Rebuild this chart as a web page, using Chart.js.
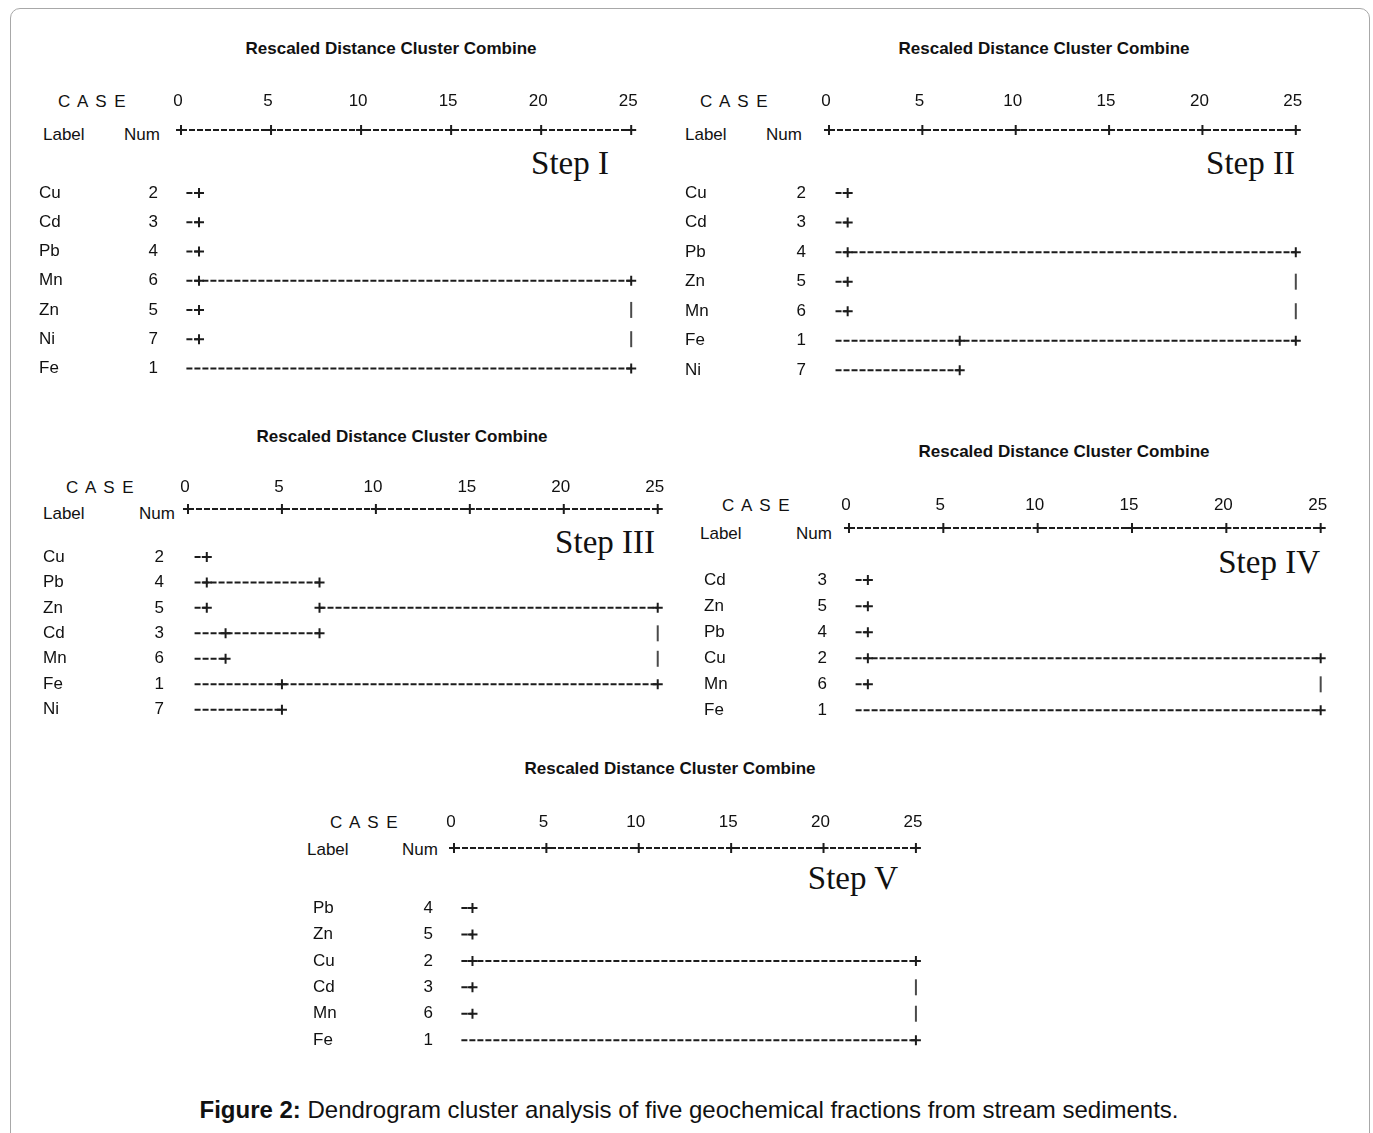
<!DOCTYPE html>
<html>
<head>
<meta charset="utf-8">
<script src="https://cdn.jsdelivr.net/npm/chart.js@4/dist/chart.umd.min.js"></script>
<style>
body { margin: 0; background: #fff; font-family: "Liberation Sans", Arial, sans-serif; color: #111; }
#page { position: relative; width: 1373px; height: 1133px; overflow: hidden; }
#frame { position: absolute; left: 10px; top: 8px; width: 1358px; height: 1140px; border: 1px solid #a8a8a8; border-radius: 10px; }
.t { position: absolute; white-space: nowrap; font-size: 17px; line-height: 1; }
.title { font-weight: bold; transform: translate(-50%, -50%); }
.case { letter-spacing: 1.5px; transform: translate(0, -50%); }
.lab { transform: translate(0, -50%); }
.num { transform: translate(-100%, -50%); }
.step { font-family: "Liberation Serif", "Times New Roman", serif; font-size: 33px; transform: translate(-100%, -50%); }
#caption { position: absolute; left: 689px; top: 1110px; transform: translate(-50%, -50%); font-size: 24px; white-space: nowrap; line-height: 1; }
canvas { position: absolute; }
</style>
</head>
<body>
<div id="page">
  <div id="frame"></div>
  <div id="caption"><b>Figure 2:</b> Dendrogram cluster analysis of five geochemical fractions from stream sediments.</div>
</div>
<script>
// rescaled distance ticks
var distTicks = [0, 5, 10, 15, 20, 25];

// links are [row, from, to], joins are [row, at], bars are [row, at]
var step1Labels = ['Cu', 'Cd', 'Pb', 'Mn', 'Zn', 'Ni', 'Fe'];
var step1Nums = ['2', '3', '4', '6', '5', '7', '1'];
var step1Links = [[0, 0.3, 1], [1, 0.3, 1], [2, 0.3, 1], [3, 0.3, 25], [4, 0.3, 1], [5, 0.3, 1], [6, 0.3, 25]];
var step1Joins = [[0, 1], [1, 1], [2, 1], [3, 1], [3, 25], [4, 1], [5, 1], [6, 25]];
var step1Bars = [[4, 25], [5, 25]];

var step2Labels = ['Cu', 'Cd', 'Pb', 'Zn', 'Mn', 'Fe', 'Ni'];
var step2Nums = ['2', '3', '4', '5', '6', '1', '7'];
var step2Links = [[0, 0.35, 1], [1, 0.35, 1], [2, 0.35, 25], [3, 0.35, 1], [4, 0.35, 1], [5, 0.35, 25], [6, 0.35, 7]];
var step2Joins = [[0, 1], [1, 1], [2, 1], [2, 25], [3, 1], [4, 1], [5, 7], [5, 25], [6, 7]];
var step2Bars = [[3, 25], [4, 25]];

var step3Labels = ['Cu', 'Pb', 'Zn', 'Cd', 'Mn', 'Fe', 'Ni'];
var step3Nums = ['2', '4', '5', '3', '6', '1', '7'];
var step3Links = [[0, 0.35, 1], [1, 0.35, 7], [2, 0.35, 1], [2, 7, 25], [3, 0.35, 7], [4, 0.35, 2], [5, 0.35, 25], [6, 0.35, 5]];
var step3Joins = [[0, 1], [1, 1], [1, 7], [2, 1], [2, 7], [2, 25], [3, 2], [3, 7], [4, 2], [5, 5], [5, 25], [6, 5]];
var step3Bars = [[3, 25], [4, 25]];

var step4Labels = ['Cd', 'Zn', 'Pb', 'Cu', 'Mn', 'Fe'];
var step4Nums = ['3', '5', '4', '2', '6', '1'];
var step4Links = [[0, 0.35, 1], [1, 0.35, 1], [2, 0.35, 1], [3, 0.35, 25], [4, 0.35, 1], [5, 0.35, 25]];
var step4Joins = [[0, 1], [1, 1], [2, 1], [3, 1], [3, 25], [4, 1], [5, 25]];
var step4Bars = [[4, 25]];

var step5Labels = ['Pb', 'Zn', 'Cu', 'Cd', 'Mn', 'Fe'];
var step5Nums = ['4', '5', '2', '3', '6', '1'];
var step5Links = [[0, 0.4, 1], [1, 0.4, 1], [2, 0.4, 25], [3, 0.4, 1], [4, 0.4, 1], [5, 0.4, 25]];
var step5Joins = [[0, 1], [1, 1], [2, 1], [2, 25], [3, 1], [4, 1], [5, 25]];
var step5Bars = [[3, 25], [4, 25]];

var panels = [
  { name: 'Step I', labels: step1Labels, nums: step1Nums, links: step1Links, joins: step1Joins, bars: step1Bars,
    box: { labelX: 39, numRight: 158, x0: 181, x25: 631, rulerY: 130, row0Y: 193, step: 29.3, tickY: 101,
           titleX: 391, titleY: 48, caseX: 58, headLabelX: 43, headNumRight: 160, headY: 134, stepRight: 609, stepY: 163 } },
  { name: 'Step II', labels: step2Labels, nums: step2Nums, links: step2Links, joins: step2Joins, bars: step2Bars,
    box: { labelX: 685, numRight: 806, x0: 829, x25: 1296, rulerY: 130, row0Y: 193, step: 29.5, tickY: 101,
           titleX: 1044, titleY: 48, caseX: 700, headLabelX: 685, headNumRight: 802, headY: 134, stepRight: 1295, stepY: 163 } },
  { name: 'Step III', labels: step3Labels, nums: step3Nums, links: step3Links, joins: step3Joins, bars: step3Bars,
    box: { labelX: 43, numRight: 164, x0: 188, x25: 658, rulerY: 509, row0Y: 557, step: 25.5, tickY: 487,
           titleX: 402, titleY: 436, caseX: 66, headLabelX: 43, headNumRight: 175, headY: 513, stepRight: 655, stepY: 542 } },
  { name: 'Step IV', labels: step4Labels, nums: step4Nums, links: step4Links, joins: step4Joins, bars: step4Bars,
    box: { labelX: 704, numRight: 827, x0: 849, x25: 1321, rulerY: 528, row0Y: 580, step: 26, tickY: 505,
           titleX: 1064, titleY: 451, caseX: 722, headLabelX: 700, headNumRight: 832, headY: 533, stepRight: 1320, stepY: 562 } },
  { name: 'Step V', labels: step5Labels, nums: step5Nums, links: step5Links, joins: step5Joins, bars: step5Bars,
    box: { labelX: 313, numRight: 433, x0: 454, x25: 916, rulerY: 848, row0Y: 908, step: 26.4, tickY: 822,
           titleX: 670, titleY: 768, caseX: 330, headLabelX: 307, headNumRight: 438, headY: 849, stepRight: 898, stepY: 878 } }
];

var fontSize = 17;
Chart.defaults.font.family = '"Liberation Sans", Arial, sans-serif';
Chart.defaults.font.size = fontSize;
Chart.defaults.color = '#111';

var page = document.getElementById('page');
var ink = '#1c1c1c';

function addText(cls, text, x, y) {
  var d = document.createElement('div');
  d.className = 't ' + cls;
  d.textContent = text;
  d.style.left = x + 'px';
  d.style.top = y + 'px';
  page.appendChild(d);
}

function noPadding(s) {
  s.paddingTop = 0; s.paddingBottom = 0; s.paddingLeft = 0; s.paddingRight = 0;
}

function buildPanel(p) {
  var b = p.box;
  addText('title', 'Rescaled Distance Cluster Combine', b.titleX, b.titleY);
  addText('case', 'C A S E', b.caseX, b.tickY);
  addText('lab', 'Label', b.headLabelX, b.headY);
  addText('num', 'Num', b.headNumRight, b.headY);
  addText('step', p.name, b.stepRight, b.stepY);

  var n = p.labels.length;
  var ppu = (b.x25 - b.x0) / 25;
  var xMin = -0.6, xMax = 25.6;
  var chartLeft = b.x0 + xMin * ppu;
  var chartRight = b.x0 + xMax * ppu;
  var chartTop = b.tickY + 12;
  var chartBottom = b.row0Y + (n - 0.4) * b.step;
  var yMin = (chartTop - b.row0Y) / b.step;
  var yMax = n - 0.4;
  var rulerRow = (b.rulerY - b.row0Y) / b.step;
  var pad = 14;
  var canvasTop = b.tickY - 18;

  var numPad = chartLeft - b.numRight;
  var wNum = numPad + 22;
  var wLab = chartLeft - b.labelX - wNum;

  var canvas = document.createElement('canvas');
  canvas.width = Math.round(chartRight - b.labelX + pad);
  canvas.height = Math.round(chartBottom - canvasTop + pad);
  canvas.style.left = b.labelX + 'px';
  canvas.style.top = canvasTop + 'px';
  page.appendChild(canvas);

  var datasets = [];
  // ruler with a cross at every tick
  datasets.push({
    data: distTicks.map(function(v) { return { x: v, y: rulerRow }; }),
    showLine: true, borderColor: ink, borderWidth: 2, borderDash: [6, 2],
    pointStyle: 'cross', pointRadius: 5, pointBorderWidth: 2, pointBorderColor: ink, clip: false
  });
  p.links.forEach(function(l) {
    datasets.push({
      data: [{ x: l[1], y: l[0] }, { x: l[2], y: l[0] }],
      showLine: true, borderColor: ink, borderWidth: 2, borderDash: [6, 2],
      pointRadius: 0, clip: false
    });
  });
  datasets.push({
    data: p.joins.map(function(j) { return { x: j[1], y: j[0] }; }),
    showLine: false, pointStyle: 'cross', pointRadius: 5, pointBorderWidth: 2,
    pointBorderColor: ink, clip: false
  });
  datasets.push({
    data: p.bars.map(function(j) { return { x: j[1], y: j[0] }; }),
    showLine: false, pointStyle: 'line', rotation: 90, pointRadius: 8, pointBorderWidth: 2,
    pointBorderColor: '#4a4a4a', clip: false
  });

  var rows = p.labels.map(function(_, i) { return i; });

  new Chart(canvas, {
    type: 'scatter',
    data: { datasets: datasets },
    options: {
      responsive: false,
      animation: false,
      events: [],
      layout: { padding: { left: 0, top: 0, right: pad, bottom: pad } },
      plugins: { legend: { display: false }, tooltip: { enabled: false } },
      scales: {
        x: {
          type: 'linear', position: 'top', min: xMin, max: xMax,
          grid: { display: false, drawTicks: false }, border: { display: false },
          afterBuildTicks: function(s) { s.ticks = distTicks.map(function(v) { return { value: v }; }); },
          afterFit: function(s) { s.height = chartTop - canvasTop; noPadding(s); },
          ticks: { autoSkip: false, maxRotation: 0, labelOffset: -3,
                   padding: chartTop - b.tickY - fontSize * 0.6,
                   callback: function(v) { return String(v); } }
        },
        y: {
          type: 'linear', position: 'left', reverse: true, min: yMin, max: yMax, weight: 0,
          grid: { display: false, drawTicks: false }, border: { display: false },
          afterBuildTicks: function(s) { s.ticks = rows.map(function(v) { return { value: v }; }); },
          afterFit: function(s) { s.width = wNum; noPadding(s); },
          ticks: { autoSkip: false, padding: numPad, crossAlign: 'near',
                   callback: function(v) { return p.nums[v]; } }
        },
        yLab: {
          type: 'linear', position: 'left', reverse: true, min: yMin, max: yMax, weight: 1,
          grid: { display: false, drawTicks: false }, border: { display: false },
          afterBuildTicks: function(s) { s.ticks = rows.map(function(v) { return { value: v }; }); },
          afterFit: function(s) { s.width = wLab; noPadding(s); },
          ticks: { autoSkip: false, padding: 0, crossAlign: 'far',
                   callback: function(v) { return p.labels[v]; } }
        }
      }
    }
  });
}

panels.forEach(buildPanel);
</script>
</body>
</html>
